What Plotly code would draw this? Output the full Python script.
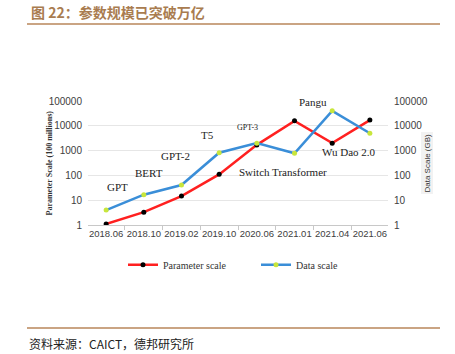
import plotly.graph_objects as go

categories = ["2018.06", "2018.10", "2019.02", "2019.10", "2020.06", "2021.01", "2021.04", "2021.06"]
param_scale = [1.1, 3.3, 14.7, 110, 1700, 15800, 2000, 17000]
data_scale = [4.0, 16.7, 41, 820, 2000, 780, 40000, 5000]
tick_vals = [1, 10, 100, 1000, 10000, 100000]
tick_text = ["1", "10", "100", "1000", "10000", "100000"]
model_labels = ["GPT", "BERT", "GPT-2", "T5", "GPT-3", "Switch Transformer", "Pangu", "Wu Dao 2.0"]
label_x = [0.3, 1.15, 1.85, 2.7, 3.75, 4.7, 5.5, 6.45]
label_y = [1.53, 2.08, 2.77, 3.62, 3.95, 2.15, 4.97, 2.95]
label_size = [11, 11, 11, 11, 8, 11, 11, 11]

fig = go.Figure()
fig.add_trace(go.Scatter(
    x=categories, y=param_scale, name="Parameter scale", mode="lines+markers",
    line=dict(color="#ff2020", width=2.5),
    marker=dict(color="black", size=5, line=dict(width=0)),
))
fig.add_trace(go.Scatter(
    x=categories, y=data_scale, name="Data scale", mode="lines+markers",
    line=dict(color="#3a8ed8", width=2.5),
    marker=dict(color="#c8e63c", size=5, line=dict(width=0)),
    yaxis="y2",
))

tickfont = dict(family="Liberation Sans, Arial", size=10, color="#404040")
fig.update_layout(
    width=455, height=354,
    margin=dict(l=88, r=67, t=101, b=129),
    paper_bgcolor="white", plot_bgcolor="white",
    showlegend=True,
    legend=dict(orientation="h", x=(123 - 88) / 300, xanchor="left", y=-0.32, yanchor="middle",
                font=dict(family="Liberation Serif, Times New Roman", size=10, color="#333"),
                entrywidth=88, entrywidthmode="pixels", itemwidth=30),
    xaxis=dict(type="category", showgrid=False, showline=True, linecolor="#c8c8c8",
               ticks="outside", tickson="boundaries", ticklen=4, tickcolor="#c8c8c8",
               tickfont=dict(family="Liberation Sans, Arial", size=9.5, color="#404040"),
               tickangle=0),
    yaxis=dict(type="log", range=[0, 5], tickvals=tick_vals, ticktext=tick_text,
               showgrid=True, gridcolor="#e6e6e6", gridwidth=1, zeroline=False,
               showline=False, tickfont=tickfont, ticks="", ticklabelstandoff=5),
    yaxis2=dict(type="log", range=[0, 5], tickvals=tick_vals, ticktext=tick_text,
                overlaying="y", side="right", showgrid=False, zeroline=False,
                tickfont=tickfont, ticks="", ticklabelstandoff=5),
)

for t, xx, yy, s in zip(model_labels, label_x, label_y, label_size):
    fig.add_annotation(x=xx, y=yy, xref="x", yref="y", text=t, showarrow=False,
                       font=dict(family="Liberation Serif, Times New Roman", size=s, color="#222"))

# axis titles
fig.add_annotation(x=(42 - 88) / 300, xref="paper", y=0.5, yref="paper",
                   text="<b>Parameter Scale (100 millions)</b>",
                   textangle=-90, showarrow=False,
                   font=dict(family="Liberation Serif, Times New Roman", size=8, color="#333"))
fig.add_annotation(x=(433 - 88) / 300, xref="paper", y=0.5, yref="paper", text="Data Scale (GB)",
                   textangle=-90, showarrow=False, bgcolor="#f2f2f2",
                   font=dict(family="Liberation Sans, Arial", size=8, color="#333"))

# title and source
fig.add_annotation(x=(29 - 88) / 300, y=1 + (101 - 12) / 124, xref="paper", yref="paper",
                   xanchor="left", yanchor="middle", showarrow=False,
                   text="<b>图 22：参数规模已突破万亿</b>",
                   font=dict(family="Noto Sans CJK SC", size=14, color="#a97c50"))
fig.add_annotation(x=(27 - 88) / 300, y=(225 - 343) / 124, xref="paper", yref="paper",
                   xanchor="left", yanchor="middle", showarrow=False,
                   text="资料来源：CAICT，德邦研究所",
                   font=dict(family="Noto Sans CJK SC", size=12, color="#222"))
fig.add_shape(type="line", xref="paper", yref="paper",
              x0=(27 - 88) / 300, x1=(440 - 88) / 300, y0=1 + (101 - 24) / 124, y1=1 + (101 - 24) / 124,
              line=dict(color="#b8865a", width=1.5))
fig.add_shape(type="line", xref="paper", yref="paper",
              x0=(27 - 88) / 300, x1=(440 - 88) / 300, y0=(225 - 328) / 124, y1=(225 - 328) / 124,
              line=dict(color="#b8865a", width=1.5))

fig.write_html("out.html")
